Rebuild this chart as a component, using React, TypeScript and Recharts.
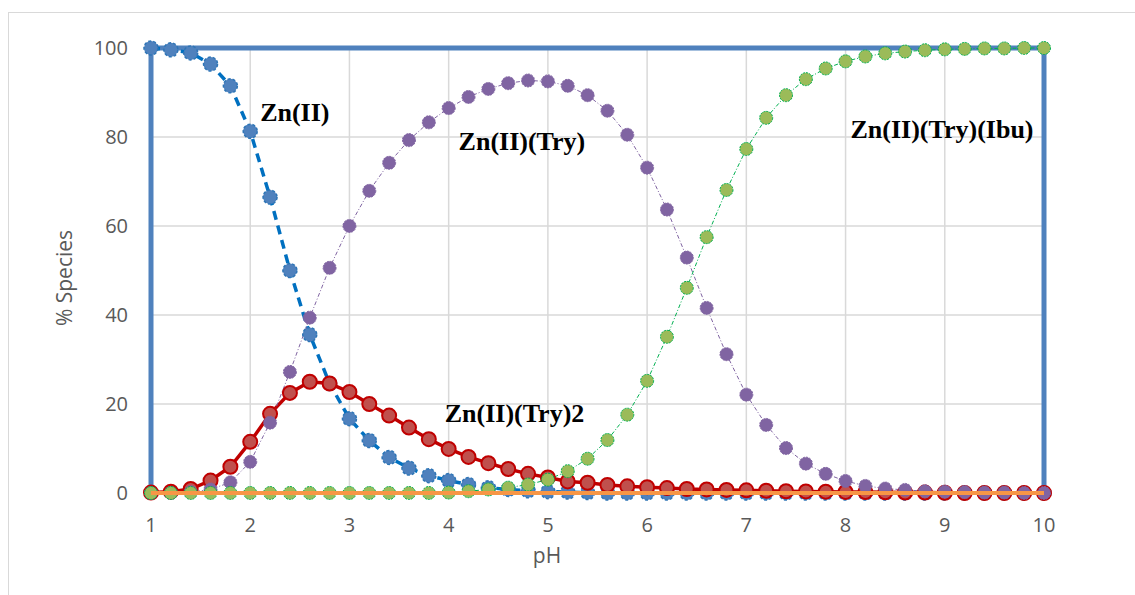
import React from 'react';
import { ComposedChart, Line, XAxis, YAxis, CartesianGrid, ReferenceDot } from 'recharts';

// pH steps of 0.2 from 1 to 10
const phValues = [
  1, 1.2, 1.4, 1.6, 1.8, 2, 2.2, 2.4, 2.6, 2.8,
  3, 3.2, 3.4, 3.6, 3.8, 4, 4.2, 4.4, 4.6, 4.8,
  5, 5.2, 5.4, 5.6, 5.8, 6, 6.2, 6.4, 6.6, 6.8,
  7, 7.2, 7.4, 7.6, 7.8, 8, 8.2, 8.4, 8.6, 8.8,
  9, 9.2, 9.4, 9.6, 9.8, 10,
];

const znII = [
  100, 99.6, 98.9, 96.4, 91.5, 81.3, 66.5, 50.0, 35.6, 24.6,
  16.7, 11.8, 8.0, 5.6, 3.9, 2.8, 1.9, 1.2, 0.8, 0.5,
  0.3, 0.2, 0.1, 0, 0, 0, 0, 0, 0, 0,
  0, 0, 0, 0, 0, 0, 0, 0, 0, 0,
  0, 0, 0, 0, 0, 0,
];

const znTry2 = [
  0.1, 0.3, 0.9, 2.8, 5.9, 11.5, 17.8, 22.5, 25.0, 24.6,
  22.7, 20.0, 17.4, 14.7, 12.1, 9.9, 8.1, 6.7, 5.4, 4.3,
  3.5, 2.6, 2.3, 1.8, 1.5, 1.3, 1.1, 0.9, 0.8, 0.7,
  0.6, 0.5, 0.4, 0.35, 0.3, 0.25, 0.2, 0.15, 0.1, 0.1,
  0.05, 0, 0, 0, 0, 0,
];

const znTry = [
  0, 0, 0.2, 0.8, 2.4, 7.0, 15.8, 27.2, 39.4, 50.6,
  60.0, 67.9, 74.2, 79.3, 83.3, 86.5, 89.0, 90.8, 92.1, 92.7,
  92.5, 91.5, 89.4, 85.9, 80.5, 73.1, 63.7, 52.9, 41.6, 31.2,
  22.1, 15.3, 10.1, 6.6, 4.3, 2.7, 1.6, 1.0, 0.7, 0.4,
  0.3, 0.2, 0.1, 0.1, 0, 0,
];

const znTryIbu = [
  0, 0, 0, 0, 0, 0, 0, 0, 0, 0,
  0, 0, 0, 0, 0, 0.1, 0.4, 0.8, 1.2, 1.9,
  3.0, 4.9, 7.7, 11.9, 17.6, 25.2, 35.1, 46.1, 57.5, 68.1,
  77.3, 84.3, 89.4, 93.0, 95.4, 97.0, 98.1, 98.8, 99.2, 99.5,
  99.7, 99.8, 99.9, 99.9, 100, 100,
];

const xTicks = [1, 2, 3, 4, 5, 6, 7, 8, 9, 10];
const yTicks = [0, 20, 40, 60, 80, 100];

// outline series and the zero baseline
const frameX = [1, 1, 10, 10];
const frameY = [0, 100, 100, 0];
const baseX = [1, 10];
const baseY = [0, 0];

const speciesLabels = [
  { text: 'Zn(II)', x: 2.1, y: 85.7 },
  { text: 'Zn(II)(Try)', x: 4.1, y: 79.1 },
  { text: 'Zn(II)(Try)2', x: 3.96, y: 18.0 },
  { text: 'Zn(II)(Try)(Ibu)', x: 8.05, y: 81.9 },
];

const data = phValues.map((pH, i) => ({
  pH,
  znII: znII[i],
  znTry2: znTry2[i],
  znTry: znTry[i],
  znTryIbu: znTryIbu[i],
}));
const frameData = frameX.map((pH, i) => ({ pH, v: frameY[i] }));
const baseData = baseX.map((pH, i) => ({ pH, v: baseY[i] }));

const tickStyle = { fill: '#595959', fontSize: 20, fontFamily: 'Open Sans' };

export default function App() {
  return (
    <div style={{ position: 'absolute', left: 0, top: 0, width: 1135, height: 595, overflow: 'hidden', background: '#fff' }}>
      <div style={{ position: 'absolute', left: 8, top: 12, width: 1140, height: 600, border: '1px solid #d9d9d9' }} />
      <div style={{ position: 'absolute', left: 0, top: 0 }}>
        <ComposedChart width={1135} height={595} margin={{ top: 48, right: 91, bottom: 0, left: 0 }}>
          <CartesianGrid stroke="#d9d9d9" strokeWidth={1.5} />
          <XAxis
            dataKey="pH"
            type="number"
            domain={[1, 10]}
            ticks={xTicks}
            allowDuplicatedCategory={false}
            axisLine={false}
            tickLine={false}
            tickSize={0}
            tickMargin={25}
            tick={tickStyle}
            height={102}
            label={{
              content: () => (
                <text x={547} y={555} textAnchor="middle" dominantBaseline="central" fill="#595959" fontSize={21} fontFamily="Open Sans">pH</text>
              ),
            }}
          />
          <YAxis
            type="number"
            domain={[0, 100]}
            ticks={yTicks}
            axisLine={false}
            tickLine={false}
            tickSize={0}
            tickMargin={23}
            tick={tickStyle}
            width={151}
            label={{
              content: () => (
                <text x={64} y={278} transform="rotate(-90 64 278)" textAnchor="middle" dominantBaseline="central" fill="#595959" fontSize={21} fontFamily="Open Sans">% Species</text>
              ),
            }}
          />
          <Line data={frameData} dataKey="v" stroke="#4f81bd" strokeWidth={5} dot={false} activeDot={false} isAnimationActive={false} />
          <Line
            data={data}
            dataKey="znII"
            stroke="#0070c0"
            strokeWidth={3.5}
            strokeDasharray="9 6"
            dot={{ r: 7, fill: '#4f81bd', stroke: '#2e75b6', strokeWidth: 1.5, strokeDasharray: '3 2' }}
            activeDot={false}
            isAnimationActive={false}
          />
          <Line
            data={data}
            dataKey="znTry2"
            stroke="#c00000"
            strokeWidth={3.5}
            dot={{ r: 7, fill: '#c0504d', stroke: '#c00000', strokeWidth: 2 }}
            activeDot={false}
            isAnimationActive={false}
          />
          <Line
            data={data}
            dataKey="znTry"
            stroke="#8064a2"
            strokeWidth={1}
            strokeDasharray="4 2 1 2"
            dot={{ r: 6.5, fill: '#8064a2', stroke: '#8064a2', strokeWidth: 1, strokeDasharray: '2 1' }}
            activeDot={false}
            isAnimationActive={false}
          />
          <Line
            data={data}
            dataKey="znTryIbu"
            stroke="#00b050"
            strokeWidth={1}
            strokeDasharray="4 2 1 2"
            dot={{ r: 6.5, fill: '#9bbb59', stroke: '#00b050', strokeWidth: 1, strokeDasharray: '2 1' }}
            activeDot={false}
            isAnimationActive={false}
          />
          <Line
            data={baseData}
            dataKey="v"
            stroke="#f79646"
            strokeWidth={4}
            dot={false}
            activeDot={false}
            isAnimationActive={false}
            zIndex={1500}
          />
          {speciesLabels.map((l) => (
            <ReferenceDot
              key={l.text}
              x={l.x}
              y={l.y}
              r={0}
              fill="none"
              stroke="none"
              label={{
                value: l.text,
                position: 'right',
                offset: 0,
                fill: '#000',
                fontSize: 26,
                fontWeight: 'bold',
                fontFamily: 'Liberation Serif',
              }}
            />
          ))}
        </ComposedChart>
      </div>
    </div>
  );
}
